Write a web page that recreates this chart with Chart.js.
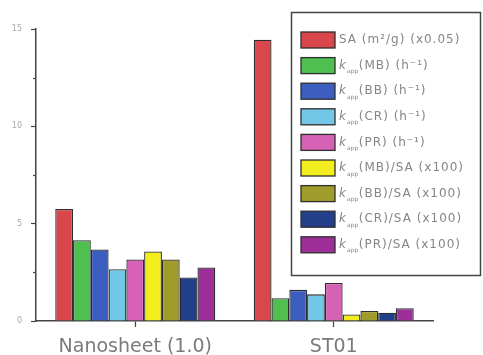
<!DOCTYPE html>
<html>
<head>
<meta charset="utf-8">
<script src="https://cdn.jsdelivr.net/npm/chart.js@4/dist/chart.umd.min.js"></script>
<style>
  html, body { margin: 0; padding: 0; background: #ffffff; }
  #wrap { width: 483px; height: 355px; }
</style>
</head>
<body>
<div id="wrap"><canvas id="c" width="483" height="355"></canvas></div>
<script>
// Samples along the x axis
const categories = ['Nanosheet (1.0)', 'ST01'];

// Series values, one array per quantity (Nanosheet, ST01)
const saScaled      = [5.75, 14.45];  // SA (m²/g) ×0.05
const kMB           = [4.15, 1.17];
const kBB           = [3.67, 1.60];
const kCR           = [2.66, 1.37];
const kPR           = [3.16, 1.95];
const kMBperSA      = [3.57, 0.34];
const kBBperSA      = [3.16, 0.51];
const kCRperSA      = [2.24, 0.42];
const kPRperSA      = [2.75, 0.66];

// Y axis tick values
const yTicks = [0, 5, 10, 15];

// Legend label pieces: [prefix, subscript, rest]
const seriesLabels = [
  ['SA (m\u00B2/g) (x0.05)', '', ''],
  ['k', 'app', '(MB) (h\u207B\u00B9)'],
  ['k', 'app', '(BB) (h\u207B\u00B9)'],
  ['k', 'app', '(CR) (h\u207B\u00B9)'],
  ['k', 'app', '(PR) (h\u207B\u00B9)'],
  ['k', 'app', '(MB)/SA (x100)'],
  ['k', 'app', '(BB)/SA (x100)'],
  ['k', 'app', '(CR)/SA (x100)'],
  ['k', 'app', '(PR)/SA (x100)']
];

const seriesData = [saScaled, kMB, kBB, kCR, kPR, kMBperSA, kBBperSA, kCRperSA, kPRperSA];
const seriesColors = ['#d9474d', '#4fbf4f', '#3b5ec0', '#72c6e6', '#d662b6', '#f2ee1e', '#a09c2c', '#243f8a', '#9e2f98'];

const datasets = seriesData.map((d, i) => ({
  label: seriesLabels[i].join(''),
  data: d,
  backgroundColor: seriesColors[i],
  borderColor: '#2e2e2e',
  borderWidth: 1.3,
  barPercentage: 1.0,
  categoryPercentage: 0.806
}));

// Boxed legend with italic k and subscripted "app"
const boxLegend = {
  id: 'boxLegend',
  afterDraw(chart) {
    const ctx = chart.ctx;
    ctx.save();
    const bx = 291.5, by = 12.5, bw = 189, bh = 263;
    ctx.fillStyle = '#ffffff';
    ctx.fillRect(bx, by, bw, bh);
    ctx.strokeStyle = '#444444';
    ctx.lineWidth = 1.5;
    ctx.strokeRect(bx, by, bw, bh);
    chart.data.datasets.forEach((ds, i) => {
      const cy = 40 + i * 25.6;
      ctx.fillStyle = ds.backgroundColor;
      ctx.fillRect(301, cy - 8, 34, 16);
      ctx.strokeStyle = '#2e2e2e';
      ctx.lineWidth = 1.3;
      ctx.strokeRect(301, cy - 8, 34, 16);
      const parts = seriesLabels[i];
      ctx.fillStyle = '#858585';
      ctx.textBaseline = 'middle';
      ctx.letterSpacing = '1px';
      let x = 339;
      if (parts[1]) {
        ctx.font = 'italic 12px "DejaVu Sans"';
        ctx.fillText(parts[0], x, cy);
        x += ctx.measureText(parts[0]).width;
        ctx.letterSpacing = '0px';
        ctx.font = '6px "DejaVu Sans"';
        ctx.fillText(parts[1], x, cy + 6);
        x += ctx.measureText(parts[1]).width + 0.5;
        ctx.letterSpacing = '1px';
        ctx.font = '12px "DejaVu Sans"';
        ctx.fillText(parts[2], x, cy);
      } else {
        ctx.font = '12px "DejaVu Sans"';
        ctx.fillText(parts[0], x, cy);
      }
    });
    ctx.restore();
  }
};

// Short minor ticks halfway between the labelled ticks
const minorTicks = {
  id: 'minorTicks',
  afterDraw(chart) {
    const y = chart.scales.y;
    const ctx = chart.ctx;
    ctx.save();
    ctx.strokeStyle = '#444444';
    ctx.lineWidth = 1.2;
    for (let v = 2.5; v < y.max; v += 5) {
      const py = Math.round(y.getPixelForValue(v)) + 0.5;
      ctx.beginPath();
      ctx.moveTo(y.right, py);
      ctx.lineTo(y.right - 3, py);
      ctx.stroke();
    }
    ctx.restore();
  }
};

new Chart(document.getElementById('c'), {
  type: 'bar',
  data: { labels: categories, datasets },
  options: {
    responsive: false,
    animation: false,
    events: [],
    layout: { padding: { top: 29, right: 50, left: 0, bottom: 0 } },
    plugins: {
      legend: { display: false },
      tooltip: { enabled: false }
    },
    scales: {
      x: {
        offset: true,
        afterFit(s) { s.height = 34; },
        grid: {
          display: true,
          offset: false,
          drawOnChartArea: false,
          drawTicks: true,
          tickLength: 6,
          tickColor: '#444444',
          tickWidth: 1.2
        },
        border: { display: true, color: '#444444', width: 1.5 },
        ticks: {
          color: '#7a7a7a',
          font: { family: '"DejaVu Sans"', size: 19 },
          padding: 9,
          maxRotation: 0
        }
      },
      y: {
        min: 0,
        max: 15,
        afterFit(s) { s.width = 36; },
        afterBuildTicks(s) { s.ticks = yTicks.map(v => ({ value: v })); },
        grid: {
          display: true,
          drawOnChartArea: false,
          drawTicks: true,
          tickLength: 5,
          tickColor: '#444444',
          tickWidth: 1.2
        },
        border: { display: true, color: '#444444', width: 1.5 },
        ticks: {
          color: '#a8a8a8',
          font: { family: '"DejaVu Sans"', size: 8 },
          padding: 9
        }
      }
    }
  },
  plugins: [minorTicks, boxLegend]
});
</script>
</body>
</html>
